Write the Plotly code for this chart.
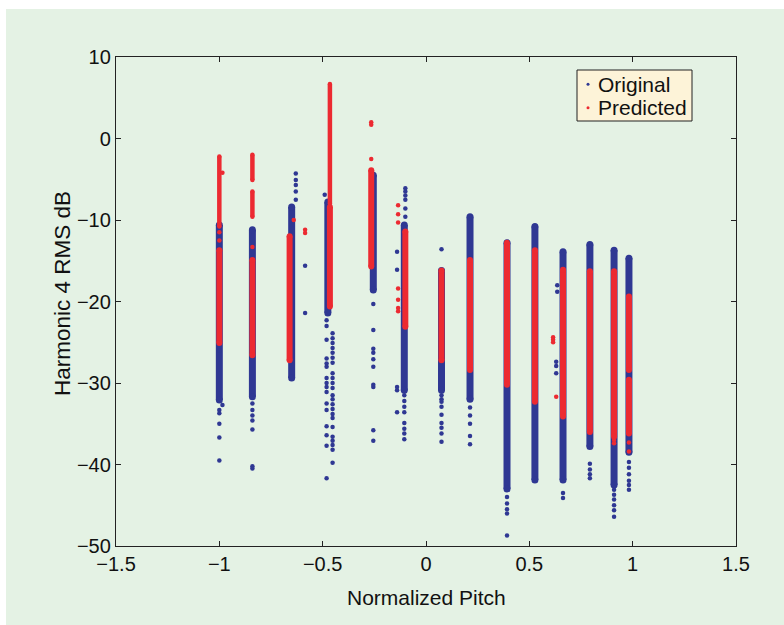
import plotly.graph_objects as go

# ---------------- data ----------------
# Dense runs of points: pitch, lower and upper end (dB)
orig_band_x  = [-1.0, -0.84, -0.65, -0.475, -0.255, -0.105, 0.075, 0.213, 0.392, 0.527, 0.663, 0.793, 0.91, 0.982]
orig_band_lo = [-32.1, -31.7, -29.4, -21.4, -18.6, -30.9, -30.9, -32.0, -43.0, -41.9, -41.9, -37.8, -42.5, -38.5]
orig_band_hi = [-10.6, -11.2, -8.4, -7.8, -4.5, -10.6, -16.2, -9.6, -12.8, -10.8, -13.9, -13.0, -13.7, -14.7]

pred_band_x  = [-1.0, -0.84, -0.66, -0.465, -0.265, -0.1, 0.075, 0.213, 0.392, 0.527, 0.663, 0.793, 0.91, 0.982, 0.982]
pred_band_lo = [-25.1, -26.6, -27.2, -20.6, -15.7, -23.1, -27.2, -28.4, -30.2, -32.3, -34.1, -36.0, -36.6, -28.4, -36.2]
pred_band_hi = [-13.7, -14.9, -12.0, -8.4, -3.9, -11.4, -16.2, -14.9, -12.8, -13.7, -16.1, -16.3, -16.3, -19.4, -29.6]

# Looser runs of points (single file of dots)
pred_run_x  = [-1.0, -0.84, -0.84, -0.465]
pred_run_lo = [-10.8, -9.6, -5.1, -8.0]
pred_run_hi = [-2.2, -6.5, -2.0, 6.7]

# Isolated points: pitch and level (dB)
orig_pts_x = ([-1.0] * 6 + [-0.985] +
              [-0.84] * 7 +
              [-0.63] * 5 + [-0.585] * 2 +
              [-0.49] + [-0.481] * 16 + [-0.452] * 23 +
              [-0.255] * 10 +
              [-0.10] * 6 + [-0.14] * 5 + [-0.105] * 8 +
              [0.075] + [0.075] * 9 +
              [0.213] * 5 +
              [0.392] * 5 +
              [0.663] * 2 + [0.635] * 2 + [0.63] * 3 +
              [0.793] * 4 +
              [0.91] * 6 +
              [0.982] * 6)
orig_pts_y = ([-33.3, -33.7, -35.0, -36.7, -39.5, -26.0] + [-32.7] +
              [-32.5, -33.3, -34.0, -34.6, -35.7, -40.2, -40.5] +
              [-4.3, -5.1, -5.7, -6.5, -7.5] + [-15.6, -21.4] +
              [-6.9] +
              [-22.3, -23.0, -24.7, -27.0, -27.6, -28.0, -29.4, -30.0, -30.5, -31.1, -32.5, -33.3, -35.3, -36.4, -37.7, -41.7] +
              [-23.9, -24.5, -25.1, -25.7, -26.3, -26.9, -27.5, -28.8, -29.4, -30.0, -30.6, -31.5, -32.0, -32.6, -33.2,
               -33.8, -34.3, -35.4, -36.6, -37.1, -37.6, -38.2, -39.8] +
              [-20.3, -23.5, -25.8, -26.3, -27.1, -28.0, -30.2, -30.5, -35.8, -37.1] +
              [-6.1, -6.5, -7.0, -7.5, -8.6, -9.6] + [-13.9, -16.1, -30.5, -30.9, -33.6] +
              [-31.5, -32.2, -32.9, -33.6, -34.9, -35.6, -36.2, -36.9] +
              [-13.6] + [-31.5, -32.0, -32.3, -32.9, -33.9, -34.9, -35.5, -36.2, -37.2] +
              [-33.0, -34.0, -35.0, -36.5, -37.5] +
              [-44.0, -44.8, -45.5, -46.0, -48.7] +
              [-43.5, -44.1] + [-18.0, -18.8] + [-27.4, -27.9, -28.8] +
              [-39.9, -40.6, -41.2, -41.7] +
              [-43.1, -43.7, -44.3, -45.0, -45.6, -46.4] +
              [-39.7, -40.4, -41.2, -42.0, -42.5, -43.1])

pred_pts_x = ([-0.985] + [-1.0] * 2 +
              [-0.84] +
              [-0.64] + [-0.585] * 2 +
              [-0.265] * 3 +
              [-0.135] * 7 +
              [0.615] * 3 + [0.63] +
              [0.91] * 2 +
              [0.982] * 2)
pred_pts_y = ([-4.2] + [-11.5, -12.5] +
              [-13.3] +
              [-10.0] + [-11.2, -11.6] +
              [2.0, 1.7, -2.5] +
              [-8.2, -9.3, -10.3, -18.4, -19.8, -20.8, -21.2] +
              [-24.4, -24.7, -25.0] + [-31.7] +
              [-37.0, -37.4] +
              [-37.3, -38.4])

x_ticks = [-1.5, -1, -0.5, 0, 0.5, 1, 1.5]
y_ticks = [10, 0, -10, -20, -30, -40, -50]

# ---------------- styles ----------------
BLUE = "#2f3893"
RED = "#ec2a31"
PLOT_BG = "#fdf3d8"
OUTER_BG = "#e4f2e4"
AXIS = "#222222"
TEXT = "#111111"
FONT = "Liberation Sans, Arial, Helvetica, sans-serif"


def band_xy(xs, lo, hi):
    bx, by = [], []
    for x, a, b in zip(xs, lo, hi):
        bx += [x, x, None]
        by += [a, b, None]
    return bx, by


def add_band(fig, xs, lo, hi, color, width):
    bx, by = band_xy(xs, lo, hi)
    fig.add_trace(go.Scatter(x=bx, y=by, mode="lines+markers", showlegend=False,
                             line=dict(color=color, width=width),
                             marker=dict(color=color, size=width, line=dict(width=0)),
                             hoverinfo="skip"))


fig = go.Figure()

add_band(fig, orig_band_x, orig_band_lo, orig_band_hi, BLUE, 7)
fig.add_trace(go.Scatter(x=orig_pts_x, y=orig_pts_y, mode="markers", name="Original",
                         showlegend=False,
                         marker=dict(color=BLUE, size=4.5, line=dict(width=0))))

add_band(fig, pred_run_x, pred_run_lo, pred_run_hi, RED, 4.5)
add_band(fig, pred_band_x, pred_band_lo, pred_band_hi, RED, 6)
fig.add_trace(go.Scatter(x=pred_pts_x, y=pred_pts_y, mode="markers", name="Predicted",
                         showlegend=False,
                         marker=dict(color=RED, size=4.5, line=dict(width=0))))

# plot area geometry in pixels (for paper-coordinate conversions)
L, R, T, B = 116, 736, 57, 546
W, H = R - L, B - T


def px(x):
    return (x - L) / W


def py(y):
    return (B - y) / H


shapes = [
    # outer green panel
    dict(type="rect", xref="paper", yref="paper", layer="below",
         x0=px(6), x1=px(784), y0=py(625), y1=py(9),
         fillcolor=OUTER_BG, line=dict(width=0)),
    # legend box
    dict(type="rect", xref="paper", yref="paper",
         x0=px(577), x1=px(692), y0=py(121), y1=py(70),
         fillcolor=PLOT_BG, line=dict(color=AXIS, width=1), layer="above"),
    dict(type="circle", xref="paper", yref="paper",
         x0=px(586.5), x1=px(589.5), y0=py(85.8), y1=py(82.8),
         fillcolor=BLUE, line=dict(width=0)),
    dict(type="circle", xref="paper", yref="paper",
         x0=px(586.5), x1=px(589.5), y0=py(109.2), y1=py(106.2),
         fillcolor=RED, line=dict(width=0)),
]
annotations = [
    dict(text="Original", xref="paper", yref="paper", x=px(596), y=py(84.3),
         xanchor="left", yanchor="middle", showarrow=False,
         font=dict(family=FONT, size=21, color=TEXT)),
    dict(text="Predicted", xref="paper", yref="paper", x=px(596), y=py(107.7),
         xanchor="left", yanchor="middle", showarrow=False,
         font=dict(family=FONT, size=21, color=TEXT)),
    # axis titles
    dict(text="Normalized Pitch", xref="paper", yref="paper", x=px(426.5), y=py(597),
         xanchor="center", yanchor="middle", showarrow=False,
         font=dict(family=FONT, size=21, color=TEXT)),
    dict(text="Harmonic 4 RMS dB", xref="paper", yref="paper", x=px(62), y=py(294),
         xanchor="center", yanchor="middle", showarrow=False, textangle=-90,
         font=dict(family=FONT, size=22.5, color=TEXT)),
]

axis_common = dict(showgrid=False, zeroline=False, showline=True, mirror="ticks",
                   linecolor=AXIS, linewidth=1.3, ticks="inside", ticklen=5,
                   tickcolor=AXIS, tickwidth=1.2,
                   tickfont=dict(family=FONT, size=20, color=TEXT))

fig.update_layout(
    width=784, height=625,
    margin=dict(l=L, r=784 - R, t=T, b=625 - B),
    paper_bgcolor="white", plot_bgcolor=PLOT_BG,
    showlegend=False,
    shapes=shapes, annotations=annotations,
    xaxis=dict(range=[-1.5, 1.5], tickvals=x_ticks, **axis_common),
    yaxis=dict(range=[-50, 10], tickvals=y_ticks, **axis_common),
)

fig.write_html("out.html")
